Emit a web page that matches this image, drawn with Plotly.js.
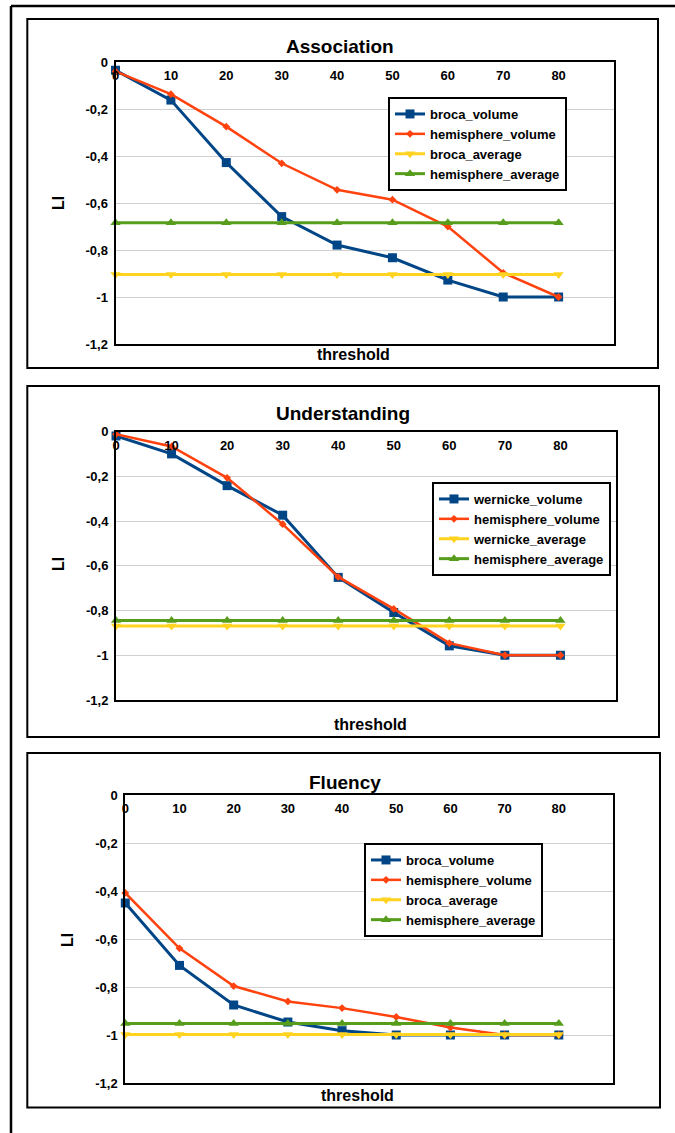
<!DOCTYPE html>
<html>
<head>
<meta charset="utf-8">
<script src="https://cdn.plot.ly/plotly-3.0.1.min.js"></script>
<style>html,body{margin:0;padding:0;background:#fff;}#chart{width:675px;height:1133px;}</style>
</head>
<body>
<div id="chart"></div>
<script>
// ---- data ----
const thresholds = [0, 10, 20, 30, 40, 50, 60, 70, 80];
const yTickVals = [0, -0.2, -0.4, -0.6, -0.8, -1, -1.2];
const yTickText = ["0", "-0,2", "-0,4", "-0,6", "-0,8", "-1", "-1,2"];
const xTickVals = [0, 10, 20, 30, 40, 50, 60, 70, 80];
const xTickText = ["0", "10", "20", "30", "40", "50", "60", "70", "80"];

const panelTitles = ["Association", "Understanding", "Fluency"];

// Association
const assocNames = ["broca_volume", "hemisphere_volume", "broca_average", "hemisphere_average"];
const assocBrocaVolume = [-0.035, -0.162, -0.428, -0.658, -0.779, -0.833, -0.928, -1, -1];
const assocHemisphereVolume = [-0.04, -0.137, -0.275, -0.431, -0.544, -0.586, -0.7, -0.897, -1];
const assocBrocaAverage = [-0.904, -0.904, -0.904, -0.904, -0.904, -0.904, -0.904, -0.904, -0.904];
const assocHemisphereAverage = [-0.684, -0.684, -0.684, -0.684, -0.684, -0.684, -0.684, -0.684, -0.684];

// Understanding
const underNames = ["wernicke_volume", "hemisphere_volume", "wernicke_average", "hemisphere_average"];
const underWernickeVolume = [-0.02, -0.1, -0.242, -0.374, -0.652, -0.809, -0.958, -1, -1];
const underHemisphereVolume = [-0.012, -0.067, -0.207, -0.414, -0.65, -0.793, -0.946, -1, -1];
const underWernickeAverage = [-0.869, -0.869, -0.869, -0.869, -0.869, -0.869, -0.869, -0.869, -0.869];
const underHemisphereAverage = [-0.845, -0.845, -0.845, -0.845, -0.845, -0.845, -0.845, -0.845, -0.845];

// Fluency
const fluNames = ["broca_volume", "hemisphere_volume", "broca_average", "hemisphere_average"];
const fluBrocaVolume = [-0.45, -0.71, -0.875, -0.946, -0.982, -1, -1, -1, -1];
const fluHemisphereVolume = [-0.408, -0.639, -0.796, -0.86, -0.888, -0.925, -0.969, -1, -1];
const fluBrocaAverage = [-0.998, -0.998, -0.998, -0.998, -0.998, -0.998, -0.998, -0.998, -0.998];
const fluHemisphereAverage = [-0.952, -0.952, -0.952, -0.952, -0.952, -0.952, -0.952, -0.952, -0.952];

// ---- styles ----
const W = 675, H = 1133;
const px = v => v / W;
const py = v => 1 - v / H;
const FONT = "Liberation Sans, Arial, sans-serif";
const colors = ["#004586", "#ff420e", "#ffd320", "#579d1c"];
const symbols = ["square", "diamond", "triangle-down", "triangle-up"];
const msizes = [9, 6, 9, 9];
const lwidths = [3, 2.5, 3, 3];

const panels = [
  {names: assocNames, series: [assocBrocaVolume, assocHemisphereVolume, assocBrocaAverage, assocHemisphereAverage],
   xd: [115.5, 614], yd: [62, 344], legend: [388, 97], title: [340, 47], li: [59, 203], thr: [353, 355]},
  {names: underNames, series: [underWernickeVolume, underHemisphereVolume, underWernickeAverage, underHemisphereAverage],
   xd: [116, 616], yd: [431.5, 700], legend: [432, 482], title: [343, 413], li: [58, 564], thr: [370, 724]},
  {names: fluNames, series: [fluBrocaVolume, fluHemisphereVolume, fluBrocaAverage, fluHemisphereAverage],
   xd: [125.3, 613], yd: [795, 1083], legend: [364, 843], title: [345, 782], li: [67, 940], thr: [357, 1095]}
];
const boxes = [[27.3, 19, 658, 368], [27.3, 386, 659, 737], [27.3, 753, 660, 1107.5]];

const traces = [];
const layout = {
  width: W, height: H,
  margin: {l: 0, r: 0, t: 0, b: 0},
  paper_bgcolor: "#ffffff", plot_bgcolor: "#ffffff",
  font: {family: FONT, size: 13, color: "#000", weight: "bold"},
  showlegend: true,
  annotations: [],
  shapes: [
    {type: "line", xref: "paper", yref: "paper", x0: px(11), x1: px(675), y0: py(6), y1: py(6), line: {color: "#000", width: 2.5}},
    {type: "line", xref: "paper", yref: "paper", x0: px(11), x1: px(11), y0: py(6), y1: py(1133), line: {color: "#000", width: 2.5}}
  ]
};

boxes.forEach(b => {
  layout.shapes.push({type: "rect", xref: "paper", yref: "paper", x0: px(b[0]), x1: px(b[2]), y0: py(b[3]), y1: py(b[1]),
    line: {color: "#000", width: 2}, layer: "below"});
});

panels.forEach((p, i) => {
  const n = i + 1;
  const xa = n === 1 ? "x" : "x" + n;
  const ya = n === 1 ? "y" : "y" + n;
  const lg = n === 1 ? "legend" : "legend" + n;
  p.series.forEach((s, k) => {
    traces.push({
      type: "scatter", mode: "lines+markers", x: thresholds, y: s, name: p.names[k],
      xaxis: xa, yaxis: ya, legend: lg, cliponaxis: false,
      line: {color: colors[k], width: lwidths[k]},
      marker: {color: colors[k], symbol: symbols[k], size: msizes[k]}
    });
  });
  layout["xaxis" + (n === 1 ? "" : n)] = {
    domain: [px(p.xd[0]), px(p.xd[1])], anchor: ya, range: [0, 90],
    side: "top", ticklabelposition: "inside", ticklabeloverflow: "allow", ticklabelstandoff: 9,
    tickmode: "array", tickvals: xTickVals, ticktext: xTickText,
    ticks: "", showgrid: false, zeroline: false,
    showline: true, linecolor: "#000", linewidth: 2, mirror: true,
    tickfont: {family: FONT, size: 13, color: "#000", weight: "bold"}, fixedrange: true
  };
  layout["yaxis" + (n === 1 ? "" : n)] = {
    domain: [py(p.yd[1]), py(p.yd[0])], anchor: xa, range: [-1.2, 0],
    tickmode: "array", tickvals: yTickVals, ticktext: yTickText,
    ticks: "", ticklabelstandoff: 3, showgrid: true, gridcolor: "#d0d0d0", gridwidth: 1, zeroline: false,
    showline: true, linecolor: "#000", linewidth: 2, mirror: true,
    tickfont: {family: FONT, size: 13, color: "#000", weight: "bold"}, fixedrange: true
  };
  layout[lg] = {
    x: px(p.legend[0]), y: py(p.legend[1]), xanchor: "left", yanchor: "top",
    bgcolor: "#ffffff", bordercolor: "#000", borderwidth: 2,
    font: {family: FONT, size: 13, color: "#000", weight: "bold"},
    tracegroupgap: 0, itemwidth: 30
  };
  layout.annotations.push(
    {xref: "paper", yref: "paper", x: px(p.title[0]), y: py(p.title[1]), xanchor: "center", yanchor: "middle",
     text: panelTitles[i], showarrow: false, font: {family: FONT, size: 19, color: "#000", weight: "bold"}},
    {xref: "paper", yref: "paper", x: px(p.li[0]), y: py(p.li[1]), xanchor: "center", yanchor: "middle",
     text: "LI", textangle: -90, showarrow: false, font: {family: FONT, size: 16, color: "#000", weight: "bold"}},
    {xref: "paper", yref: "paper", x: px(p.thr[0]), y: py(p.thr[1]), xanchor: "center", yanchor: "middle",
     text: "threshold", showarrow: false, font: {family: FONT, size: 16, color: "#000", weight: "bold"}}
  );
});

Plotly.newPlot("chart", traces, layout, {staticPlot: true, displayModeBar: false});
</script>
</body>
</html>
